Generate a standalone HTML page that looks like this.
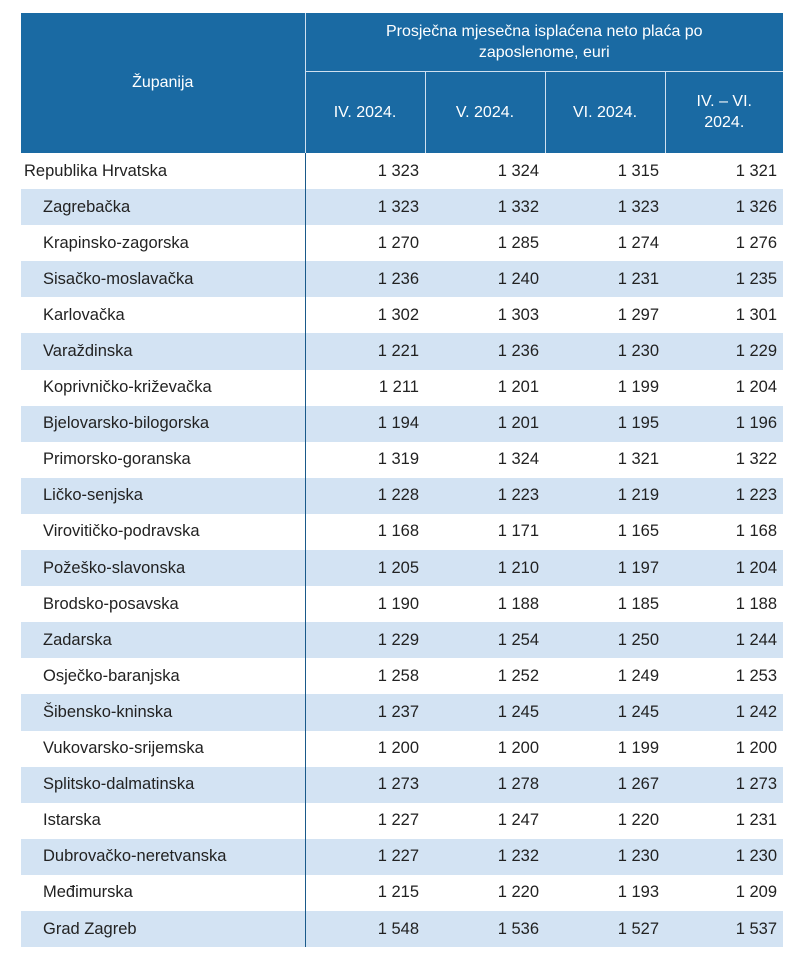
<!DOCTYPE html>
<html><head><meta charset="utf-8"><style>
body{margin:0;background:#fff;width:790px;height:958px;overflow:hidden;font-family:"Liberation Sans",sans-serif;}
table{position:absolute;left:21px;top:13px;border-collapse:collapse;width:762px;table-layout:fixed;}
th{background:#1a6aa3;color:#fff;font-weight:normal;font-size:16px;line-height:21px;text-align:center;padding:0;}
td{height:36.1px;padding:0;font-size:16.5px;color:#222;}
td.n{text-align:right;padding-right:6px;}
td.l{padding-left:22px;border-right:1px solid #1a5a8a;}
tr.s td{background:#d3e3f3;}
</style></head><body>
<table>
<colgroup><col style="width:284px"><col style="width:120px"><col style="width:120px"><col style="width:120px"><col style="width:118px"></colgroup>
<tr><th rowspan="2" style="height:138px;border-right:1px solid #cfe0f0;padding-bottom:2px">Županija</th>
<th colspan="4" style="height:57px;border-bottom:1px solid #cfe0f0">Prosječna mjesečna isplaćena neto plaća po<br>zaposlenome, euri</th></tr>
<tr><th style="height:80px;border-right:1px solid #cfe0f0">IV. 2024.</th><th style="border-right:1px solid #cfe0f0">V. 2024.</th><th style="border-right:1px solid #cfe0f0">VI. 2024.</th><th>IV. – VI.<br>2024.</th></tr>
<tr><td class="l" style="padding-left:3px">Republika Hrvatska</td><td class="n">1 323</td><td class="n">1 324</td><td class="n">1 315</td><td class="n">1 321</td></tr>
<tr class="s"><td class="l">Zagrebačka</td><td class="n">1 323</td><td class="n">1 332</td><td class="n">1 323</td><td class="n">1 326</td></tr>
<tr><td class="l">Krapinsko-zagorska</td><td class="n">1 270</td><td class="n">1 285</td><td class="n">1 274</td><td class="n">1 276</td></tr>
<tr class="s"><td class="l">Sisačko-moslavačka</td><td class="n">1 236</td><td class="n">1 240</td><td class="n">1 231</td><td class="n">1 235</td></tr>
<tr><td class="l">Karlovačka</td><td class="n">1 302</td><td class="n">1 303</td><td class="n">1 297</td><td class="n">1 301</td></tr>
<tr class="s"><td class="l">Varaždinska</td><td class="n">1 221</td><td class="n">1 236</td><td class="n">1 230</td><td class="n">1 229</td></tr>
<tr><td class="l">Koprivničko-križevačka</td><td class="n">1 211</td><td class="n">1 201</td><td class="n">1 199</td><td class="n">1 204</td></tr>
<tr class="s"><td class="l">Bjelovarsko-bilogorska</td><td class="n">1 194</td><td class="n">1 201</td><td class="n">1 195</td><td class="n">1 196</td></tr>
<tr><td class="l">Primorsko-goranska</td><td class="n">1 319</td><td class="n">1 324</td><td class="n">1 321</td><td class="n">1 322</td></tr>
<tr class="s"><td class="l">Ličko-senjska</td><td class="n">1 228</td><td class="n">1 223</td><td class="n">1 219</td><td class="n">1 223</td></tr>
<tr><td class="l">Virovitičko-podravska</td><td class="n">1 168</td><td class="n">1 171</td><td class="n">1 165</td><td class="n">1 168</td></tr>
<tr class="s"><td class="l">Požeško-slavonska</td><td class="n">1 205</td><td class="n">1 210</td><td class="n">1 197</td><td class="n">1 204</td></tr>
<tr><td class="l">Brodsko-posavska</td><td class="n">1 190</td><td class="n">1 188</td><td class="n">1 185</td><td class="n">1 188</td></tr>
<tr class="s"><td class="l">Zadarska</td><td class="n">1 229</td><td class="n">1 254</td><td class="n">1 250</td><td class="n">1 244</td></tr>
<tr><td class="l">Osječko-baranjska</td><td class="n">1 258</td><td class="n">1 252</td><td class="n">1 249</td><td class="n">1 253</td></tr>
<tr class="s"><td class="l">Šibensko-kninska</td><td class="n">1 237</td><td class="n">1 245</td><td class="n">1 245</td><td class="n">1 242</td></tr>
<tr><td class="l">Vukovarsko-srijemska</td><td class="n">1 200</td><td class="n">1 200</td><td class="n">1 199</td><td class="n">1 200</td></tr>
<tr class="s"><td class="l">Splitsko-dalmatinska</td><td class="n">1 273</td><td class="n">1 278</td><td class="n">1 267</td><td class="n">1 273</td></tr>
<tr><td class="l">Istarska</td><td class="n">1 227</td><td class="n">1 247</td><td class="n">1 220</td><td class="n">1 231</td></tr>
<tr class="s"><td class="l">Dubrovačko-neretvanska</td><td class="n">1 227</td><td class="n">1 232</td><td class="n">1 230</td><td class="n">1 230</td></tr>
<tr><td class="l">Međimurska</td><td class="n">1 215</td><td class="n">1 220</td><td class="n">1 193</td><td class="n">1 209</td></tr>
<tr class="s"><td class="l">Grad Zagreb</td><td class="n">1 548</td><td class="n">1 536</td><td class="n">1 527</td><td class="n">1 537</td></tr>
</table>
</body></html>
